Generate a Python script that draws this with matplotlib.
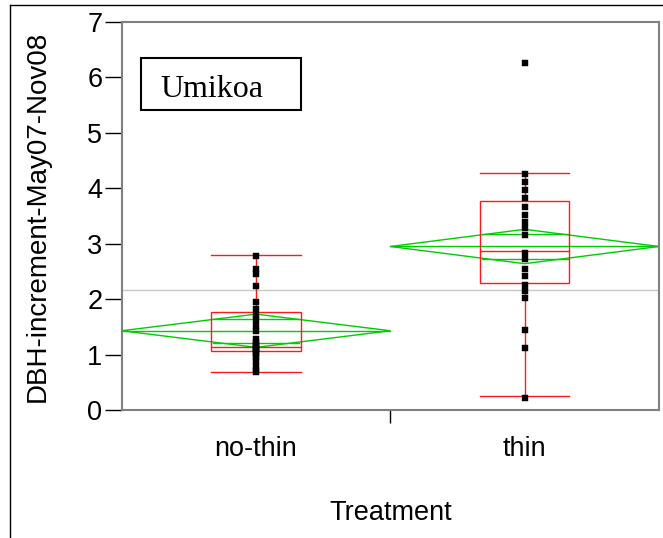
import numpy as np
import matplotlib
matplotlib.use("Agg")
import matplotlib.pyplot as plt
from matplotlib.patches import Rectangle, Polygon
from matplotlib.lines import Line2D

# groups on the x axis
groups = ["no-thin", "thin"]

# individual trees
no_thin = [2.78, 2.55, 2.45, 2.24, 1.94, 1.83, 1.72, 1.62, 1.52, 1.42,
           1.28, 1.22, 1.18, 1.15, 1.12, 1.10, 1.08, 1.05, 1.01, 0.95,
           0.88, 0.80, 0.73, 0.68]
thin = [6.26, 4.26, 4.12, 3.97, 3.82, 3.67, 3.52, 3.40, 3.28, 3.16,
        2.84, 2.72, 2.54, 2.42, 2.26, 2.14, 2.02, 1.44, 1.11, 0.22]

# box plot stats (whisker_lo, q1, median, q3, whisker_hi)
box_stats = [[0.69, 1.07, 1.14, 1.775, 2.80],
             [0.25, 2.29, 2.86, 3.77, 4.27]]

# means diamonds: mean and 95% CI half width
group_means = [1.43, 2.95]
ci_half = [0.30, 0.31]
grand_mean = 2.17

yticks = [0, 1, 2, 3, 4, 5, 6, 7]

GREEN = "#00cc00"
RED = "#ff1a1a"

fig = plt.figure(figsize=(6.63, 5.38), dpi=100)
ax = fig.add_axes([0.1836, 0.2379, 0.8104, 0.7212])

ax.set_xlim(0, 2)
ax.set_ylim(0, 7)

# grand mean
ax.axhline(grand_mean, color="#c8c8c8", lw=1, zorder=1)

for i, name in enumerate(groups):
    c = i + 0.5
    m = group_means[i]
    h = ci_half[i]
    # diamond
    diamond = Polygon([[i, m], [c, m + h], [i + 1, m], [c, m - h]],
                      closed=True, fill=False, edgecolor=GREEN, lw=1, zorder=2)
    ax.add_patch(diamond)
    ax.plot([i, i + 1], [m, m], color=GREEN, lw=1, zorder=2)
    # overlap marks
    ov = h / np.sqrt(2)
    ax.plot([c - 0.16, c + 0.16], [m + ov, m + ov], color=GREEN, lw=1, zorder=2)
    ax.plot([c - 0.16, c + 0.16], [m - ov, m - ov], color=GREEN, lw=1, zorder=2)

    # box plot
    lo, q1, med, q3, hi = box_stats[i]
    bw = 1 / 6
    ax.add_patch(Rectangle((c - bw, q1), 2 * bw, q3 - q1, fill=False,
                           edgecolor=RED, lw=1, zorder=3))
    ax.plot([c - bw, c + bw], [med, med], color=RED, lw=1, zorder=3)
    ax.plot([c, c], [q3, hi], color=RED, lw=1, zorder=3)
    ax.plot([c, c], [lo, q1], color=RED, lw=1, zorder=3)
    ax.plot([c - bw, c + bw], [hi, hi], color=RED, lw=1, zorder=3)
    ax.plot([c - bw, c + bw], [lo, lo], color=RED, lw=1, zorder=3)

# points
for i, vals in enumerate([no_thin, thin]):
    ax.plot(np.full(len(vals), i + 0.5), vals, ls="none", marker="s",
            ms=5, color="black", mec="black", mew=0.3, zorder=4)

for sp in ax.spines.values():
    sp.set_color("#808080")
    sp.set_linewidth(1.5)

ax.set_yticks(yticks)
ax.set_yticklabels([str(t) for t in yticks])
ax.tick_params(axis="y", direction="out", length=12, width=1, color="black",
               labelsize=19.5, pad=2)

ax.set_xticks([0.5, 1.5])
ax.set_xticklabels(groups)
ax.set_xticks([1.0], minor=True)
ax.tick_params(axis="x", which="major", length=0, labelsize=19.5, pad=19)
ax.tick_params(axis="x", which="minor", direction="out", length=9.5,
               width=1, color="black")

ax.set_xlabel("Treatment", fontsize=19.5, labelpad=27)
ax.set_ylabel("DBH-increment-May07-Nov08", fontsize=20, labelpad=26)

for lab in ax.get_xticklabels() + ax.get_yticklabels():
    lab.set_fontfamily("Liberation Sans")
ax.xaxis.label.set_fontfamily("Liberation Sans")
ax.yaxis.label.set_fontfamily("Liberation Sans")

# site label box
ax.add_patch(Rectangle((0.036, 0.773), 0.297, 0.133, transform=ax.transAxes,
                       fill=False, edgecolor="black", lw=1.5, zorder=5))
ax.text(0.0722, 0.825, "Umikoa", transform=ax.transAxes, ha="left",
        va="center", fontsize=23, family="Liberation Serif", zorder=6)

# outer frame
fig.add_artist(Line2D([10 / 663, 1], [1 - 5 / 538, 1 - 5 / 538],
                      transform=fig.transFigure, color="black", lw=1))
fig.add_artist(Line2D([10 / 663, 10 / 663], [0, 1 - 5 / 538],
                      transform=fig.transFigure, color="black", lw=1))

fig.savefig("out.png", dpi=100)
